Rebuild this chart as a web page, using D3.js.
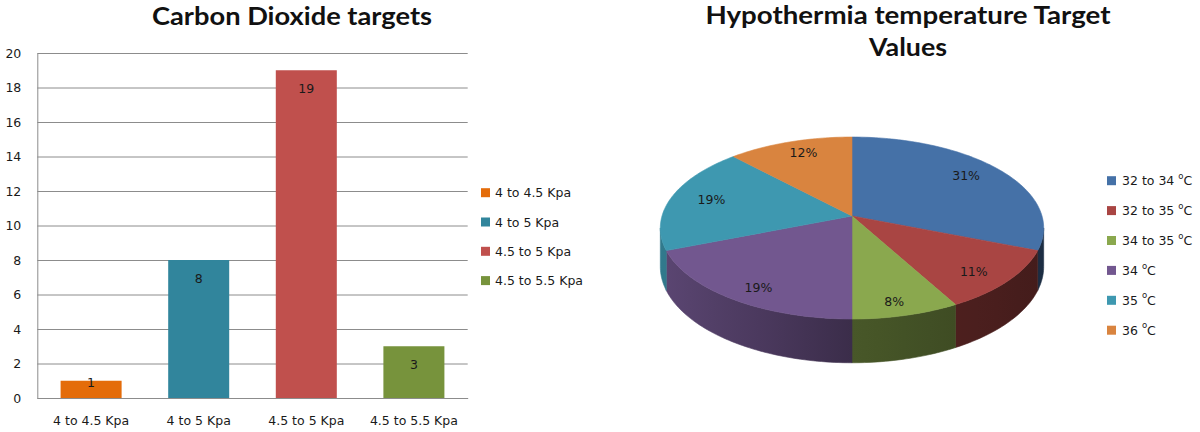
<!DOCTYPE html>
<html><head><meta charset="utf-8">
<script src="https://cdn.jsdelivr.net/npm/d3@7"></script>
<style>
html,body{margin:0;padding:0;background:#fff;}
svg{display:block;}
text{font-family:"DejaVu Sans",Verdana,sans-serif;}
</style></head>
<body>
<svg id="c" width="1200" height="432"></svg>
<script>
// ---- data ----
const barCategories = ["4 to 4.5 Kpa", "4 to 5 Kpa", "4.5 to 5 Kpa", "4.5 to 5.5 Kpa"];
const barValues = [1, 8, 19, 3];
const barColors = ["#e46c0a", "#31859c", "#c0504d", "#77933c"];
const yTicks = [0, 2, 4, 6, 8, 10, 12, 14, 16, 18, 20];
const barTitle = "Carbon Dioxide targets";

const pieLabels = ["32 to 34", "32 to 35", "34 to 35", "34", "35", "36"];
const pieValues = [31, 11, 8, 19, 19, 12];
const pieColors = ["#4571a7", "#a94543", "#8aa84e", "#72578f", "#3e98b0", "#d9843f"];
const pieTitle = ["Hypothermia temperature Target", "Values"];

const svg = d3.select("#c");
const defs = svg.append("defs");

// ---- bar chart ----
const x = d3.scaleBand().domain(barCategories).range([37.3, 467.7]).paddingInner(0.433).paddingOuter(0.2165);
const y = d3.scaleLinear().domain([0, 20]).range([398, 53]);

const gy = svg.append("g").attr("transform", "translate(37.3,0)")
  .call(d3.axisLeft(y).tickValues(yTicks).tickSize(-(467.7 - 37.3)).tickSizeOuter(0).tickPadding(16));
gy.selectAll(".tick line").attr("stroke", "#8c8c8c");
gy.select(".domain").attr("stroke", "#8c8c8c");
gy.selectAll("text").attr("font-size", 12.5).attr("fill", "#1a1a1a").attr("font-family", "DejaVu Sans");

svg.append("g").selectAll("rect").data(barValues).join("rect")
  .attr("x", (d, i) => x(barCategories[i]))
  .attr("width", x.bandwidth())
  .attr("y", d => y(d))
  .attr("height", d => y(0) - y(d))
  .attr("fill", (d, i) => barColors[i]);

const gx = svg.append("g").attr("transform", "translate(0,398)")
  .call(d3.axisBottom(x).tickSize(0).tickPadding(18));
gx.select(".domain").attr("stroke", "#8c8c8c");
gx.selectAll("text").attr("font-size", 12.5).attr("fill", "#1a1a1a").attr("font-family", "DejaVu Sans");

svg.append("g").selectAll("text").data(barValues).join("text")
  .attr("x", (d, i) => x(barCategories[i]) + x.bandwidth() / 2)
  .attr("y", d => { const h = y(0) - y(d); return y(d) + (h > 30 ? 18 : 2); })
  .attr("dy", "0.36em")
  .attr("text-anchor", "middle")
  .attr("font-size", 12.5).attr("fill", "#1a1a1a")
  .text(d => d);

svg.append("text").attr("x", 292).attr("y", 25).attr("text-anchor", "middle")
  .attr("font-weight", "bold").attr("font-size", 25)
  .attr("textLength", 280).attr("lengthAdjust", "spacingAndGlyphs")
  .attr("fill", "#111").style("font-family", "Lato").text(barTitle);

// bar legend
const bl = svg.append("g").selectAll("g").data(barCategories).join("g")
  .attr("transform", (d, i) => `translate(481,${192.7 + i * 29.3})`);
bl.append("rect").attr("x", 0).attr("y", -4.5).attr("width", 9).attr("height", 9).attr("fill", (d, i) => barColors[i]);
bl.append("text").attr("x", 14).attr("dy", "0.36em").attr("font-size", 12.5).attr("fill", "#1a1a1a").text(d => d);

// ---- 3D pie ----
const cx = 852, cy = 216, R = 190, A = 89.4, P = 0.132, DEPTH = 38;
function proj(theta, r, z, fx, fy) {
  const u = r * Math.sin(theta), v = r * Math.cos(theta);
  const k = 1 / (1 + P * v);
  return [cx + R * u * k * (fx || 1), cy - A * v * k * (fy || 1) + (z || 0) * k];
}
const arcs = d3.pie().sort(null).value(d => d)(pieValues);

// silhouette extremes of the rim (where the side becomes visible)
const thetas = d3.range(0, 2 * Math.PI, 0.001);
const thRight = thetas[d3.maxIndex(thetas, t => proj(t, 1, 0)[0])];
const thLeft = thetas[d3.minIndex(thetas, t => proj(t, 1, 0)[0])];

function arcPts(a0, a1, z) {
  const n = Math.max(2, Math.ceil((a1 - a0) / 0.02));
  const pts = [];
  for (let i = 0; i <= n; i++) pts.push(proj(a0 + (a1 - a0) * i / n, 1, z));
  return pts;
}
function shade(xp) {
  return d3.scaleLinear().domain([660, 852, 1043]).range([0.8, 0.52, 0.4]).clamp(true)(xp);
}
function scaleColor(c, f) {
  const r = d3.rgb(c);
  return d3.rgb(r.r * f, r.g * f, r.b * f).formatHex();
}
const line = d3.line();
const sideG = svg.append("g");
arcs.forEach((a, i) => {
  const s0 = Math.max(a.startAngle, thRight), s1 = Math.min(a.endAngle, thLeft);
  if (s1 <= s0) return;
  const top = arcPts(s0, s1, 0), bot = arcPts(s0, s1, DEPTH).reverse();
  const xs = top.map(p => p[0]);
  const x0 = d3.min(xs), x1 = d3.max(xs);
  const gid = "side" + i;
  const g = defs.append("linearGradient").attr("id", gid).attr("gradientUnits", "userSpaceOnUse")
    .attr("x1", x0).attr("x2", x1).attr("y1", 0).attr("y2", 0);
  d3.range(5).forEach(j => {
    const xp = x0 + (x1 - x0) * j / 4;
    g.append("stop").attr("offset", j / 4).attr("stop-color", scaleColor(pieColors[i], shade(xp)));
  });
  sideG.append("path").attr("d", line(top.concat(bot)) + "Z").attr("fill", `url(#${gid})`)
    .attr("stroke", `url(#${gid})`).attr("stroke-width", 0.6);
});
const topG = svg.append("g");
arcs.forEach((a, i) => {
  const pts = [proj(0, 0, 0)].concat(arcPts(a.startAngle, a.endAngle, 0));
  topG.append("path").attr("d", line(pts) + "Z").attr("fill", pieColors[i])
    .attr("stroke", pieColors[i]).attr("stroke-width", 0.6);
});
svg.append("g").selectAll("text").data(arcs).join("text")
  .attr("x", d => proj((d.startAngle + d.endAngle) / 2, 1, 0, 0.78, 0.86)[0])
  .attr("y", d => proj((d.startAngle + d.endAngle) / 2, 1, 0, 0.78, 0.86)[1])
  .attr("dy", "0.36em").attr("text-anchor", "middle")
  .attr("font-size", 12.5).attr("fill", "#1a1a1a")
  .text(d => d.data + "%");

const pt = svg.append("g").attr("font-weight", "bold").attr("font-size", 25).attr("fill", "#111");
pt.append("text").attr("x", 908).attr("y", 24).attr("text-anchor", "middle").style("font-family", "Lato")
  .attr("textLength", 405).attr("lengthAdjust", "spacingAndGlyphs").text(pieTitle[0]);
pt.append("text").attr("x", 908).attr("y", 56).attr("text-anchor", "middle").style("font-family", "Lato")
  .attr("textLength", 78).attr("lengthAdjust", "spacingAndGlyphs").text(pieTitle[1]);

// pie legend
const pl = svg.append("g").selectAll("g").data(pieLabels).join("g")
  .attr("transform", (d, i) => `translate(1107,${180.7 + i * 29.9})`);
pl.append("rect").attr("x", 0).attr("y", -4.5).attr("width", 9).attr("height", 9).attr("fill", (d, i) => pieColors[i]);
const plt = pl.append("text").attr("x", 15).attr("dy", "0.36em").attr("font-size", 12.5).attr("fill", "#1a1a1a");
plt.append("tspan").text(d => d + " ");
plt.append("tspan").attr("font-size", 8.5).attr("dy", "-0.75em").text("o");
plt.append("tspan").attr("dy", "0.52em").text("C");
</script>
</body></html>
